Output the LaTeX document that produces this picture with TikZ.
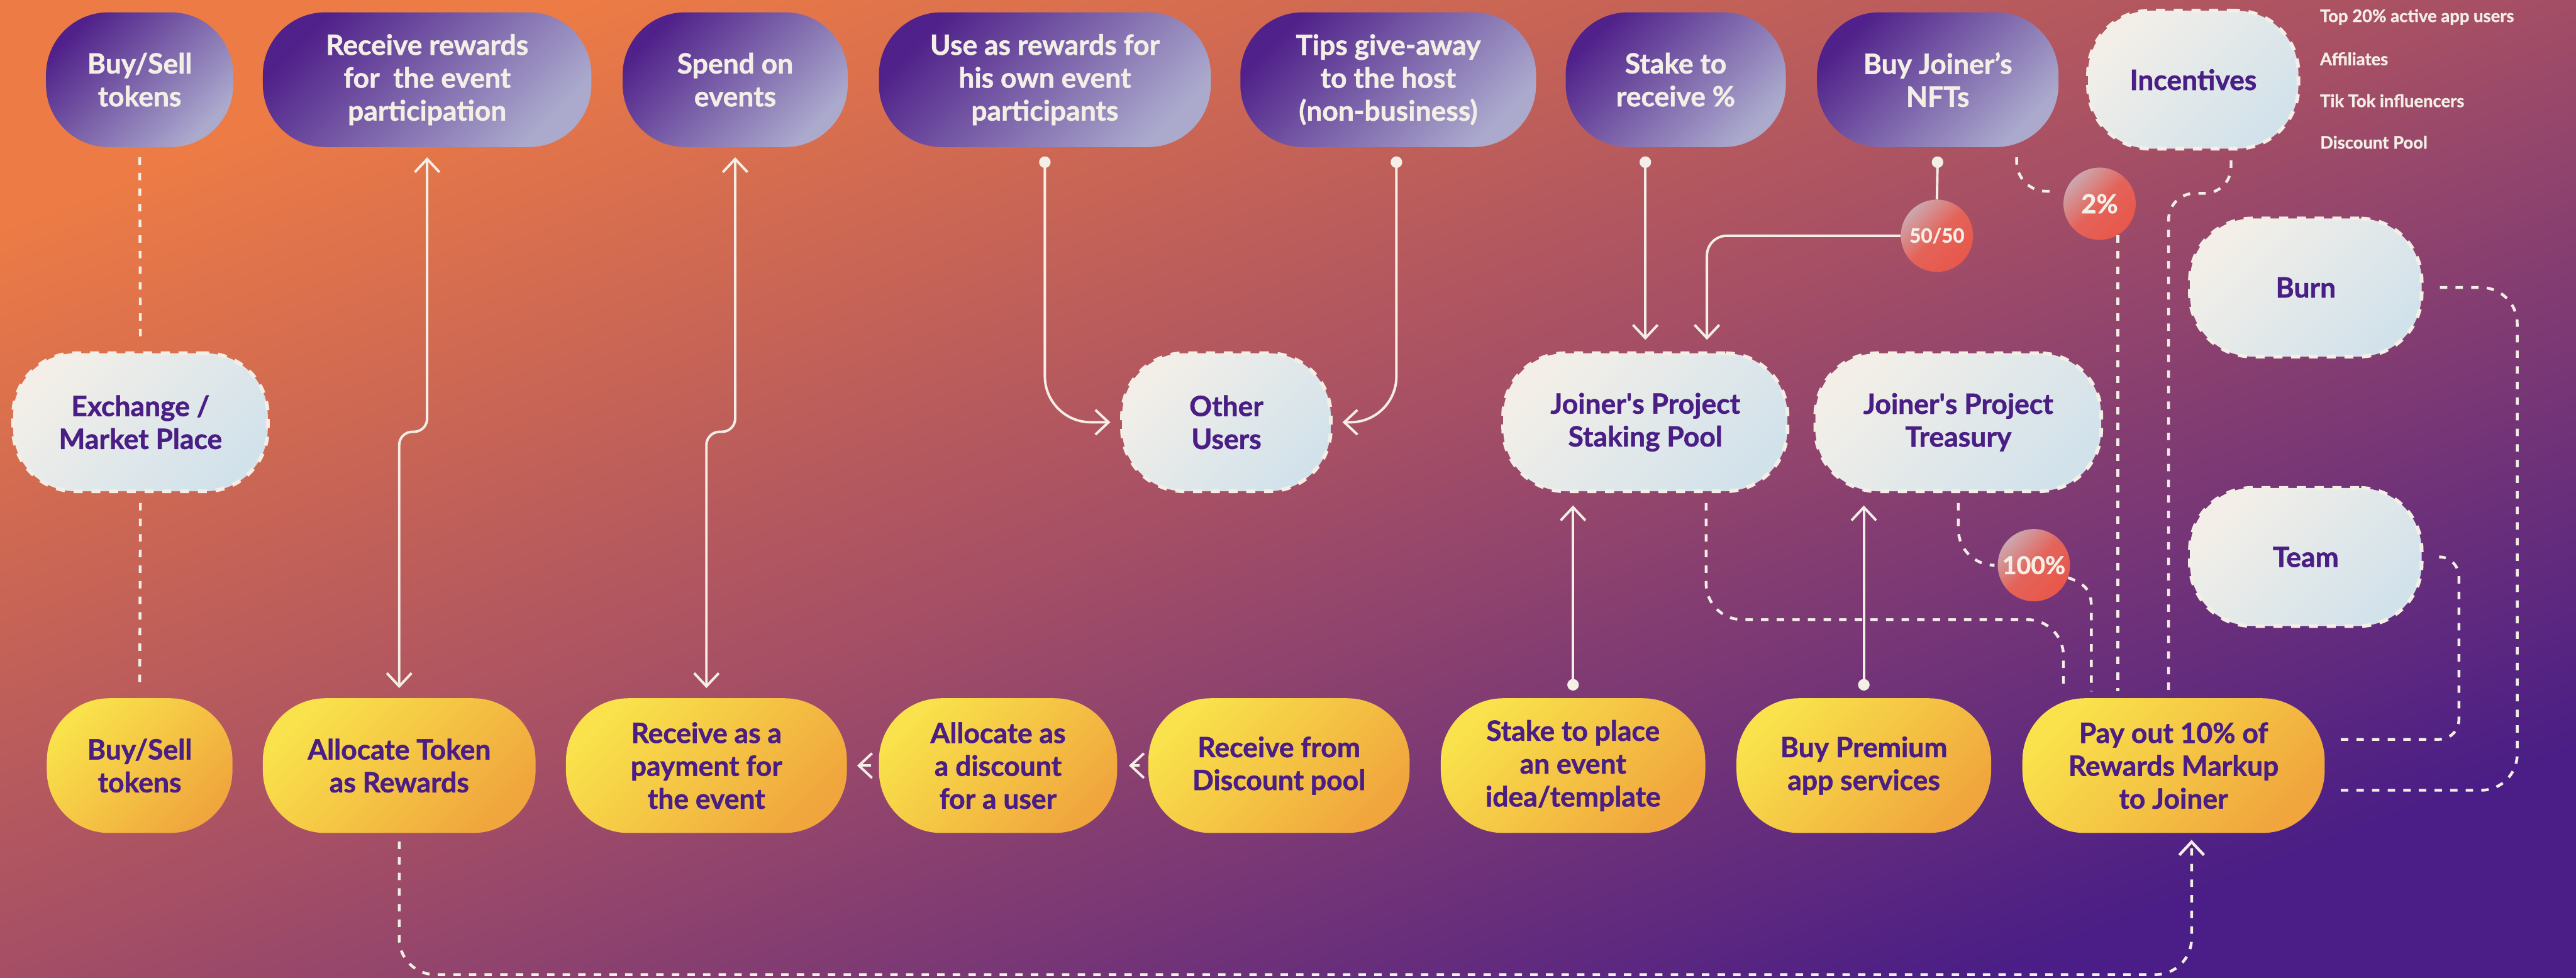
\documentclass[tikz,border=0pt]{standalone}
\usepackage{fontspec}
\setmainfont{Lato}[BoldFeatures={FakeBold=1.2}]
\usetikzlibrary{arrows.meta}
\usetikzlibrary{calc}
\definecolor{cream}{HTML}{F3EEE6}
\definecolor{txtpurple}{HTML}{4A1E84}
\definecolor{purpdark}{HTML}{50218A}
\definecolor{purplight}{HTML}{ABAACD}
\definecolor{midlight}{HTML}{F3EFE8}
\definecolor{midblue}{HTML}{D2E2EB}
\definecolor{yel}{HTML}{F9E24B}
\definecolor{orng}{HTML}{F0A63D}
\definecolor{redlight}{HTML}{CCA7AF}
\definecolor{redmain}{HTML}{E8574A}
\definecolor{bgorange}{HTML}{EC7B45}
\definecolor{bgmid}{HTML}{A44E66}
\definecolor{bgpurple}{HTML}{4A1E86}
\tikzset{
    pill/.style = {rectangle, rounded corners=38pt, inner sep=0pt, minimum height=82pt, align=center, font=\bfseries\fontsize{17}{20}\selectfont},
    pillt/.style = {pill, shade, top color=purpdark, bottom color=purplight, shading angle=45, text=cream},
    pillm/.style = {pill, minimum height=84pt, shade, top color=midlight, bottom color=midblue, shading angle=45, text=txtpurple, draw=cream, line width=2.3pt, dash pattern=on 5.5pt off 5.3pt},
    pillb/.style = {pill, shade, top color=yel, bottom color=orng, shading angle=45, text=txtpurple},
    badge/.style = {circle, minimum size=44pt, inner sep=0pt, shade, top color=redlight, bottom color=redmain, middle color=redmain!85!redlight, shading angle=45, text=cream, font=\bfseries\fontsize{16}{16}\selectfont},
    listtxt/.style = {anchor=west, inner sep=0pt, text=cream, font=\bfseries\fontsize{10.5}{12}\selectfont},
    edgew/.style = {draw=cream, line width=1.5pt, shorten <=6pt, shorten >=6pt},
    edged/.style = {edgew, line width=1.7pt, dash pattern=on 4.5pt off 5pt}, % dashed flows
    >={Straight Barb[length=8pt,width=15pt]},
}

\begin{document}
\begin{tikzpicture}[x=1pt,y=-1pt]
\shade[top color=bgorange, bottom color=bgpurple, middle color=bgmid, shading angle=21] (0,0) rectangle (1568,595);
\path[use as bounding box] (0,0) rectangle (1568,595);

% top row
\node[pillt, minimum width=114pt] at (85,48.5) (buyT) {Buy/Sell\\tokens};
\node[pillt, minimum width=200pt] at (260,48.5) (rewT) {Receive rewards\\for~ the event\\participation};
\node[pillt, minimum width=137pt] at (447.5,48.5) (spendT) {Spend on\\events};
\node[pillt, minimum width=202pt] at (636,48.5) (useT) {Use as rewards for\\his own event\\participants};
\node[pillt, minimum width=180pt] at (845,48.5) (tipsT) {Tips give-away\\to the host\\(non-business)};
\node[pillt, minimum width=134pt] at (1020,48.5) (stakeT) {Stake to\\receive \%};
\node[pillt, minimum width=147pt] at (1179.5,48.5) (nftT) {Buy Joiner’s\\NFTs};
\node[pillm, minimum width=128pt] at (1335,48.5) (incT) {Incentives};
\node[listtxt] at (1412,10.4) (inc1) {Top 20\% active app users};
\node[listtxt] at (1412,35.8) (inc2) {Affiliates};
\node[listtxt] at (1412,61.3) (inc3) {Tik Tok influencers};
\node[listtxt] at (1412,86.6) (inc4) {Discount Pool};

% middle row
\node[pillm, minimum width=155pt] at (85.5,257) (exch) {Exchange /\\Market Place};
\node[pillm, minimum width=127pt] at (746.5,257) (other) {Other\\Users};
\node[pillm, minimum width=173pt] at (1001.5,257) (pool) {Joiner\textquotesingle s Project\\Staking Pool};
\node[pillm, minimum width=174pt] at (1192,257) (treas) {Joiner\textquotesingle s Project\\Treasury};
\node[pillm, minimum width=141pt] at (1403.5,175) (burn) {Burn};
\node[pillm, minimum width=141pt] at (1403.5,339) (team) {Team};

% percentages
\node[badge, font=\bfseries\fontsize{12}{12}\selectfont] at (1179,143.5) (c5050) {50/50};
\node[badge] at (1278,124) (c2) {2\%};
\node[badge, font=\bfseries\fontsize{15}{15}\selectfont] at (1238,344) (c100) {100\%};

% bottom row
\node[pillb, minimum width=113pt] at (85,466) (buyB) {Buy/Sell\\tokens};
\node[pillb, minimum width=166pt] at (243,466) (allocB) {Allocate Token\\as Rewards};
\node[pillb, minimum width=171pt] at (430,466) (recvB) {Receive as a\\payment for\\the event};
\node[pillb, minimum width=145pt] at (607.5,466) (discB) {Allocate as\\a discount\\for a user};
\node[pillb, minimum width=159pt] at (778.5,466) (dpoolB) {Receive from\\Discount pool};
\node[pillb, minimum width=161pt] at (957.5,466) (stakeB) {Stake to place\\an event\\idea/template};
\node[pillb, minimum width=155pt] at (1134.5,466) (premB) {Buy Premium\\app services};
\node[pillb, minimum width=184pt] at (1323,466) (payB) {Pay out 10\% of\\Rewards Markup\\to Joiner};

% solid flows
\draw[edgew,<->,rounded corners=8pt] (allocB.north) -- ++(0,-162) -| (rewT.south);
\draw[edgew,<->,rounded corners=8pt] (recvB.north) -- ++(0,-162) -| (spendT.south);
\draw[edgew,{Circle[length=7pt]}->,rounded corners=28pt,shorten <=5.5pt,shorten >=6pt] (useT.south) |- (other.west);
\draw[edgew,{Circle[length=7pt]}->,rounded corners=28pt,shorten <=5.5pt,shorten >=6pt] ($(tipsT.south)+(5,0)$) |- (other.east);
\draw[edgew,{Circle[length=7pt]}->,shorten <=5.5pt,shorten >=7pt] (pool.north |- stakeT.south) -- (pool.north);
\draw[edgew,{Circle[length=7pt]}-,shorten <=5.5pt,shorten >=0pt] (nftT.south) -- (c5050.north);
\draw[edgew,->,rounded corners=12pt,shorten <=0pt,shorten >=7pt] (c5050.west) -| ($(pool.north)+(37.5,0)$);
\draw[edgew,{Circle[length=7pt]}->,shorten <=4.5pt,shorten >=7.5pt] (stakeB.north) -- (stakeB.north |- pool.south);
\draw[edgew,{Circle[length=7pt]}->,shorten <=4.5pt,shorten >=7.5pt] (premB.north) -- (premB.north |- treas.south);
\draw[edgew,->,shorten <=4.5pt,shorten >=6pt] (discB.west) -- (recvB.east);
\draw[edgew,->,shorten <=5pt,shorten >=7pt] (dpoolB.west) -- (discB.east);

% dashed flows
\draw[edged] (buyT.south) -- (exch.north);
\draw[edged] (exch.south) -- (buyB.north);
\draw[edged,rounded corners=18pt,shorten >=5pt] ($(nftT.south)+(48,0)$) |- (c2.160);
\draw[edged,shorten <=0pt,shorten >=4pt] (c2.-60) -- (c2.-60 |- payB.north);
\draw[edged,rounded corners=16pt,shorten >=4pt] ($(incT.south)+(23,0)$) -- ++(0,26) -| ($(payB.north)+(-3,0)$);
\draw[edged,rounded corners=22pt,shorten >=4pt] ($(pool.south)+(37,0)$) -- ++(0,77) -| ($(payB.north)+(-67,0)$);
\draw[edged,rounded corners=22pt,shorten >=3pt] (treas.south) |- (c100.west);
\draw[edged,shorten <=0pt,shorten >=4pt] (c100.-20) .. controls +(11,4) and +(0,-10) .. ($(payB.north)+(-50,-55)$) -- ($(payB.north)+(-50,0)$);
\draw[edged,rounded corners=22pt,shorten <=10pt] (burn.east) -| ($(payB.east)+(117,15)$) -- ($(payB.east)+(0,15)$);
\draw[edged,rounded corners=12pt,shorten <=10pt] (team.east) -| ($(payB.east)+(81.5,-16)$) -- ($(payB.east)+(0,-16)$);
\draw[edged,->,rounded corners=22pt,shorten <=5pt,shorten >=4pt] (allocB.south) -- ++(0,86) -| ($(payB.south)+(11,0)$);

\end{tikzpicture}
\end{document}
